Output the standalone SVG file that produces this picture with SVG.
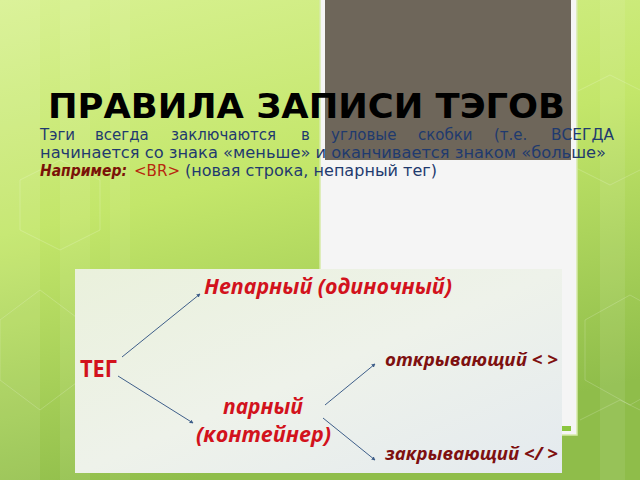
<svg xmlns="http://www.w3.org/2000/svg" width="640" height="480" viewBox="0 0 640 480">
<defs>
<linearGradient id="bg" x1="0" y1="0" x2="0.3" y2="1">
<stop offset="0" stop-color="#d8f192"/>
<stop offset="0.45" stop-color="#c3e66a"/>
<stop offset="1" stop-color="#8fbd4a"/>
</linearGradient>
<linearGradient id="box" x1="0" y1="0" x2="1" y2="1">
<stop offset="0" stop-color="#eaf1dc"/>
<stop offset="0.5" stop-color="#eef2ea"/>
<stop offset="1" stop-color="#e4eaef"/>
</linearGradient>
<marker id="ah" viewBox="0 0 6 6" refX="5" refY="3" markerWidth="4" markerHeight="4" orient="auto">
<path d="M0,0 L6,3 L0,6 z" fill="#3f5f8a"/>
</marker>
<style>
.title{font-family:"DejaVu Sans",sans-serif;font-weight:bold;font-size:34px;fill:#000}
.body{font-family:"DejaVu Sans",sans-serif;font-size:15px;fill:#1f3a6e}
.ex{font-family:"DejaVu Sans",sans-serif;font-size:15px;font-weight:bold;font-style:italic;fill:#7a1208}
.br{font-family:"DejaVu Sans",sans-serif;font-size:15px;fill:#b8280e}
.red{font-family:"Open Sans","Noto Sans",sans-serif;font-weight:bold;font-style:italic;fill:#d2121c}
.dred{font-family:"Open Sans","Noto Sans",sans-serif;font-weight:bold;font-style:italic;fill:#7e1010;font-size:17px}
.conn{stroke:#3f5f8a;stroke-width:1;fill:none;marker-end:url(#ah)}
.hex{fill:none;stroke:#ffffff;stroke-opacity:0.18;stroke-width:1}
</style>
</defs>
<rect width="640" height="480" fill="url(#bg)"/>
<rect x="0" y="0" width="40" height="480" fill="#ffffff" opacity="0.08"/>
<rect x="60" y="0" width="30" height="480" fill="#ffffff" opacity="0.07"/>
<rect x="110" y="0" width="20" height="480" fill="#ffffff" opacity="0.06"/>
<rect x="600" y="0" width="25" height="480" fill="#ffffff" opacity="0.08"/>
<path class="hex" d="M560,100 L610,75 L660,100 L660,160 L610,185 L560,160 Z"/>
<path class="hex" d="M0,320 L40,290 L80,320 L80,380 L40,410 L0,380 Z"/>
<path class="hex" d="M585,320 L630,295 L675,320 L675,380 L630,405 L585,380 Z"/>
<path class="hex" d="M580,420 L620,400 L660,420 L660,480"/>
<path class="hex" d="M20,180 L60,160 L100,180 L100,230 L60,250 L20,230 Z"/>
<rect x="320" y="-2" width="257" height="437" fill="#f5f5f5" stroke="#d6eaa8" stroke-width="1.5"/>
<rect x="325" y="0" width="246" height="160" fill="#6e665a"/>
<rect x="562" y="426" width="9" height="5" fill="#8cc63f"/>
<text class="title" x="48" y="118" textLength="517" lengthAdjust="spacingAndGlyphs">ПРАВИЛА ЗАПИСИ ТЭГОВ</text>
<g class="body">
<text x="40" y="140">Тэги</text>
<text x="95" y="140">всегда</text>
<text x="171" y="140">заключаются</text>
<text x="301" y="140">в</text>
<text x="331" y="140">угловые</text>
<text x="418" y="140">скобки</text>
<text x="494" y="140">(т.е.</text>
<text x="551" y="140" textLength="63" lengthAdjust="spacingAndGlyphs">ВСЕГДА</text>
<text x="40" y="158" textLength="566" lengthAdjust="spacingAndGlyphs">начинается со знака «меньше»  и оканчивается знаком «больше»</text>
</g>
<text class="ex" x="40" y="176" textLength="87" lengthAdjust="spacingAndGlyphs">Например:</text>
<text class="br" x="134" y="176" textLength="46" lengthAdjust="spacingAndGlyphs">&lt;BR&gt;</text>
<text class="body" x="185" y="176" textLength="252" lengthAdjust="spacingAndGlyphs">(новая строка, непарный тег)</text>
<rect x="75" y="269" width="487" height="204" fill="url(#box)"/>
<g id="connectors">
<line class="conn" x1="122" y1="357" x2="200" y2="294"/>
<line class="conn" x1="118" y1="376" x2="193" y2="423"/>
<line class="conn" x1="325" y1="405" x2="375" y2="364"/>
<line class="conn" x1="323" y1="418" x2="375" y2="460"/>
</g>
<g id="node-teg"><text x="80" y="377" style="font-family:'Open Sans','Noto Sans',sans-serif;font-weight:bold;font-size:24px;fill:#d2121c" textLength="37" lengthAdjust="spacingAndGlyphs">ТЕГ</text></g>
<g id="node-nepar"><text class="red" x="204" y="294" font-size="21" textLength="248" lengthAdjust="spacingAndGlyphs">Непарный (одиночный)</text></g>
<g id="node-par"><text class="red" x="263" y="414" font-size="21" text-anchor="middle" textLength="80" lengthAdjust="spacingAndGlyphs">парный</text><text class="red" x="196" y="442" font-size="21" textLength="135" lengthAdjust="spacingAndGlyphs">(контейнер)</text></g>
<g id="node-open"><text class="dred" x="385" y="366" textLength="173" lengthAdjust="spacingAndGlyphs">открывающий &lt; &gt;</text></g>
<g id="node-close"><text class="dred" x="385" y="460" textLength="173" lengthAdjust="spacingAndGlyphs">закрывающий &lt;/ &gt;</text></g>
</svg>
